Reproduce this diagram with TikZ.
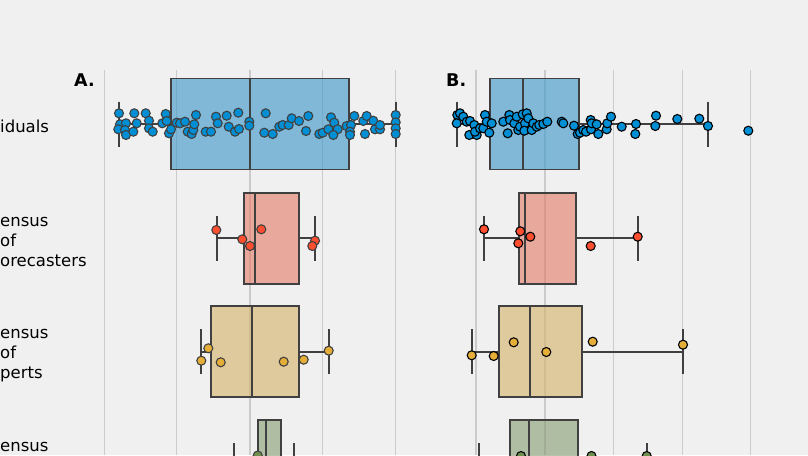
\documentclass[tikz,border=0pt]{standalone}
\usepackage{fontspec}
\setmainfont{DejaVu Sans}
\definecolor{bgc}{RGB}{240,240,240}
\definecolor{gridc}{RGB}{203,203,203}
\definecolor{edgec}{RGB}{64,64,64}
\definecolor{boxblue}{RGB}{55,148,200}
\definecolor{boxred}{RGB}{227,120,100}
\definecolor{boxtan}{RGB}{213,178,102}
\definecolor{boxgreen}{RGB}{133,155,113}
\definecolor{dblue}{RGB}{0,143,213}
\definecolor{dred}{RGB}{252,79,48}
\definecolor{dyellow}{RGB}{229,174,56}
\definecolor{dgreen}{RGB}{109,144,79}
\newcommand{\bxp}[7]{%
  % #1 y, #2 wL, #3 q1, #4 med, #5 q3, #6 wR, #7 colour
  \draw[wline] (#2,#1) -- (#3,#1);
  \draw[wline] (#5,#1) -- (#6,#1);
  \draw[wline] (#2,#1-22.5) -- (#2,#1+22.5);
  \draw[wline] (#6,#1-22.5) -- (#6,#1+22.5);
  \fill[#7, fill opacity=0.6] (#3,#1-45.5) rectangle (#5,#1+45.5);
  \draw[wline] (#3,#1-45.5) rectangle (#5,#1+45.5);
  \draw[wline] (#4,#1-45.5) -- (#4,#1+45.5);
}
\tikzset{
  wline/.style={draw=edgec, line width=1.8pt},
  gline/.style={draw=gridc, line width=1.5pt},
  dotA/.style={draw=edgec, line width=1.1pt},
  dotB/.style={draw=black, line width=1.1pt},
  rowlabel/.style={anchor=west, inner sep=0pt, align=left, font=\fontsize{16.5}{20}\selectfont},
  panellabel/.style={anchor=base west, inner sep=0pt, font=\fontsize{17.5}{20}\selectfont\bfseries},
}
\begin{document}
\begin{tikzpicture}[x=1pt, y=-1pt]
\fill[bgc] (0,0) rectangle (808,455);
\useasboundingbox (0,0) rectangle (808,455);
\clip (0,0) rectangle (808,455);
% grid lines
\foreach \gx in {104.3,176.7,250,322.7,395.7,476,545,613.3,682.3,750.7}
  \draw[gline] (\gx,70) -- (\gx,455);
% labels
\node[panellabel] (la) at (74,86) {A.};
\node[panellabel] (lb) at (446,86) {B.};
\node[rowlabel] (r1) at (0,126) {iduals};
\node[rowlabel] (r2) at (0,242) {ensus\\of\\orecasters};
\node[rowlabel] (r3) at (0,356) {ensus\\of\\perts};
\node[rowlabel] (r4) at (0,446.5) {ensus};
% panel A boxes
\bxp{124}{119}{171.3}{250}{348.7}{395.7}{boxblue}
\bxp{238.2}{216.7}{244.3}{255.3}{299.3}{315}{boxred}
\bxp{351.8}{201.3}{211.3}{252.3}{299}{328.7}{boxtan}
\bxp{465.5}{234}{258.3}{266.3}{280.7}{294}{boxgreen}
% panel B boxes
\bxp{124}{456.7}{490}{523.3}{578.7}{708}{boxblue}
\bxp{238.2}{484}{519}{525.3}{575.7}{637.7}{boxred}
\bxp{351.8}{471.7}{498.7}{530}{581.7}{683}{boxtan}
\bxp{465.5}{479.3}{510}{528.7}{577.7}{646.7}{boxgreen}
% panel A dots
\foreach \px/\py in {119/113.3,120/124.3,118.3/129.3,126/123.3,125/130,126/135,134.3/113.3,136.7/123.3,133.3/131.7,145.7/113.3,149/120.7,149/128.3,152.7/131.7,162.3/123.3,165.7/114,166.7/121,169/133.3,171/129.3,176.7/122.7,180/123.3,185/121.7,187.7/131.7,191.7/134,193.3/130,194.3/124.3,196/115,205.7/131.7,211/131.7,216/116.7,217.7/123.3,226.7/115.7,228.7/126.7,235/131.7,238.3/112.7,239/129,249.3/121.7,249.3/125.7,265.7/113.3,264.3/132.7,272.7/134,279.3/126.7,282.7/125,288.7/125,291.7/118.3,299/121,308.3/116,306/131,319.3/134,322.7/132.7,328.3/129.3,331/117.3,334.3/122.7,337.7/129.3,333.3/135,346.7/126,351/125,350/131.7,354.3/116,350/135,363.3/121,366.7/116,365/134,373.3/120.7,375/129.3,380/129.3,380/125,395.7/115,395.7/122.3,395.7/128.3,395.7/134}
  \filldraw[dotA, fill=dblue] (\px,\py) circle[radius=4.5];
\foreach \px/\py in {216.3/230,242.3/239.3,250/246,261.3/229.3,315/240.7,312.3/246}
  \filldraw[dotA, fill=dred] (\px,\py) circle[radius=4.5];
\foreach \px/\py in {208.3/348.3,201.3/360.7,220.7/362.3,283.7/361.7,303.7/359.7,328.7/350.7}
  \filldraw[dotA, fill=dyellow] (\px,\py) circle[radius=4.5];
\filldraw[dotA, fill=dgreen] (257.7,455.5) circle[radius=4.5];
% panel B dots
\foreach \px/\py in {457.3/115,456.7/123.3,460/113.3,463.3/116.7,466.7/121.7,470/121,469.3/135,474.3/125,476.7/135,475/131.7,480/128.3,483.3/128.3,485/115,486.7/121.7,489.3/132.7,491.7/123.3,503.3/121.7,507.7/133.3,509.3/115,510/120,514.3/123.3,516.7/116.7,518.3/130,520/126.7,522.7/114.3,525/123.3,524.3/130.7,526.7/113.3,528.3/118.3,531.7/130,533.3/123.3,536.7/126.7,539.3/125,543.3/124,547.3/121.7,561.7/121.7,563.3/123.3,574/125.7,577.7/134,580/132.7,583.3/130,586/131.7,590.7/120,591/129.3,591.7/123.3,598.3/134,596.7/124.3,606.7/129.3,607.3/123.3,611/116.7,621.7/126.7,636/124,635.3/134,655.3/126,656/115.7,677.3/119,699.3/118.7,708/126,748.3/130.7}
  \filldraw[dotB, fill=dblue] (\px,\py) circle[radius=4.5];
\foreach \px/\py in {484/229.3,520.3/231.3,530.3/236.7,518.3/243.3,590.7/246,637.7/236.7}
  \filldraw[dotB, fill=dred] (\px,\py) circle[radius=4.5];
\foreach \px/\py in {471.7/355.3,493.7/356,513.7/342.3,546.3/352,592.7/341.7,683/344.7}
  \filldraw[dotB, fill=dyellow] (\px,\py) circle[radius=4.5];
\foreach \px/\py in {521/456,591.5/456,646.7/456}
  \filldraw[dotB, fill=dgreen] (\px,\py) circle[radius=4.5];
\end{tikzpicture}
\end{document}
